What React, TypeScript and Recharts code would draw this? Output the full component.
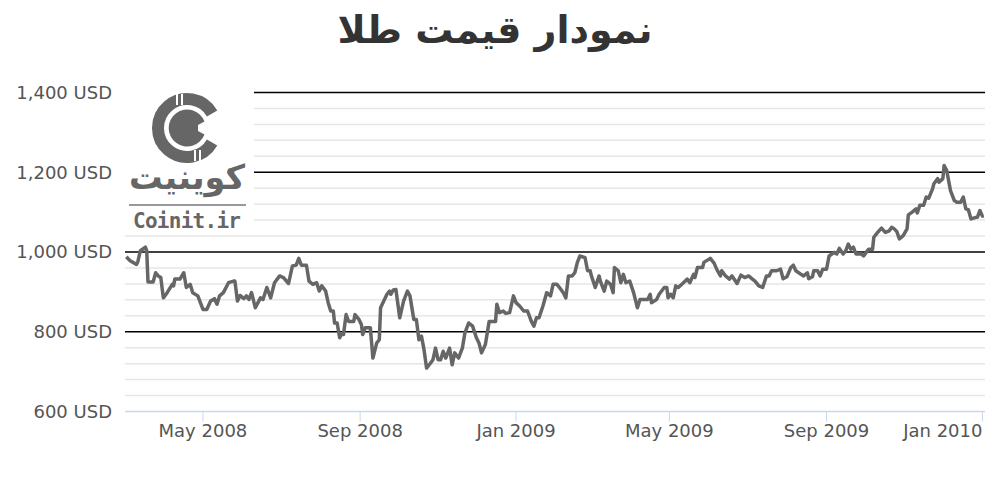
import React from "react";
import { LineChart, Line, XAxis, YAxis, CartesianGrid } from "recharts";

// قیمت روزانه طلا (دلار بر اونس)، خوانده شده از نمودار
const dates = [
  "2008-03-02", "2008-03-05", "2008-03-10", "2008-03-11", "2008-03-13", "2008-03-17", "2008-03-18", "2008-03-19",
  "2008-03-23", "2008-03-25", "2008-03-27", "2008-03-29", "2008-03-31",
  "2008-04-03", "2008-04-07", "2008-04-08", "2008-04-09", "2008-04-13", "2008-04-16", "2008-04-18", "2008-04-21",
  "2008-04-23", "2008-04-27",
  "2008-05-01", "2008-05-04", "2008-05-07", "2008-05-10", "2008-05-12", "2008-05-14", "2008-05-17", "2008-05-21",
  "2008-05-25", "2008-05-26", "2008-05-28", "2008-05-30",
  "2008-06-02", "2008-06-04", "2008-06-06", "2008-06-08", "2008-06-11", "2008-06-15", "2008-06-17", "2008-06-20",
  "2008-06-23", "2008-06-26", "2008-06-30",
  "2008-07-03", "2008-07-07", "2008-07-10", "2008-07-13", "2008-07-15", "2008-07-17", "2008-07-21", "2008-07-23",
  "2008-07-26", "2008-07-29", "2008-07-31",
  "2008-08-02", "2008-08-05", "2008-08-07", "2008-08-09", "2008-08-11", "2008-08-12", "2008-08-14", "2008-08-16",
  "2008-08-17", "2008-08-19", "2008-08-21", "2008-08-23", "2008-08-27", "2008-08-28", "2008-08-31",
  "2008-09-02", "2008-09-03", "2008-09-05", "2008-09-09", "2008-09-11", "2008-09-14", "2008-09-16", "2008-09-17",
  "2008-09-22", "2008-09-24", "2008-09-25", "2008-09-27", "2008-09-29",
  "2008-10-02", "2008-10-05", "2008-10-08", "2008-10-10", "2008-10-13", "2008-10-15", "2008-10-17", "2008-10-19",
  "2008-10-21", "2008-10-23", "2008-10-26", "2008-10-28", "2008-10-30",
  "2008-11-01", "2008-11-03", "2008-11-05", "2008-11-07", "2008-11-10", "2008-11-12", "2008-11-14", "2008-11-17",
  "2008-11-20", "2008-11-22", "2008-11-25", "2008-11-28",
  "2008-12-01", "2008-12-03", "2008-12-05", "2008-12-08", "2008-12-11", "2008-12-16", "2008-12-17", "2008-12-19",
  "2008-12-22", "2008-12-24", "2008-12-27", "2008-12-30",
  "2009-01-01", "2009-01-04", "2009-01-07", "2009-01-10", "2009-01-13", "2009-01-15", "2009-01-17", "2009-01-19",
  "2009-01-22", "2009-01-25", "2009-01-28", "2009-01-30",
  "2009-02-02", "2009-02-04", "2009-02-07", "2009-02-09", "2009-02-11", "2009-02-14", "2009-02-16", "2009-02-18",
  "2009-02-20", "2009-02-24", "2009-02-26", "2009-02-28",
  "2009-03-01", "2009-03-04", "2009-03-07", "2009-03-08", "2009-03-11", "2009-03-13", "2009-03-16", "2009-03-18",
  "2009-03-19", "2009-03-22", "2009-03-24", "2009-03-26", "2009-03-28", "2009-03-31",
  "2009-04-03", "2009-04-06", "2009-04-08", "2009-04-14", "2009-04-16", "2009-04-17", "2009-04-21", "2009-04-23",
  "2009-04-27", "2009-04-29", "2009-04-30",
  "2009-05-02", "2009-05-04", "2009-05-06", "2009-05-08", "2009-05-12", "2009-05-15", "2009-05-17", "2009-05-20",
  "2009-05-21", "2009-05-23", "2009-05-27", "2009-05-28",
  "2009-06-02", "2009-06-05", "2009-06-07", "2009-06-10", "2009-06-11", "2009-06-14", "2009-06-17", "2009-06-19",
  "2009-06-23", "2009-06-26", "2009-06-29",
  "2009-07-02", "2009-07-05", "2009-07-07", "2009-07-10", "2009-07-13", "2009-07-16", "2009-07-18", "2009-07-20",
  "2009-07-24", "2009-07-27", "2009-07-29",
  "2009-08-01", "2009-08-04", "2009-08-06", "2009-08-08", "2009-08-12", "2009-08-14", "2009-08-17", "2009-08-18",
  "2009-08-21", "2009-08-22", "2009-08-25", "2009-08-27", "2009-08-29",
  "2009-09-01", "2009-09-03", "2009-09-07", "2009-09-09", "2009-09-11", "2009-09-14", "2009-09-16", "2009-09-18",
  "2009-09-20", "2009-09-22", "2009-09-24", "2009-09-28", "2009-09-30",
  "2009-10-02", "2009-10-04", "2009-10-07", "2009-10-08", "2009-10-11", "2009-10-14", "2009-10-17", "2009-10-20",
  "2009-10-22", "2009-10-24", "2009-10-26", "2009-10-28", "2009-10-31",
  "2009-11-03", "2009-11-04", "2009-11-07", "2009-11-10", "2009-11-11", "2009-11-13", "2009-11-16", "2009-11-18",
  "2009-11-20", "2009-11-23", "2009-11-24", "2009-11-27", "2009-11-28",
  "2009-12-01", "2009-12-02", "2009-12-04", "2009-12-07", "2009-12-10", "2009-12-12", "2009-12-15", "2009-12-17",
  "2009-12-19", "2009-12-21", "2009-12-23", "2009-12-27", "2009-12-28", "2009-12-30",
  "2010-01-01", "2010-01-02",
];

const prices = [
  988, 978, 969, 975, 1003, 1012, 1003, 925,
  925, 948, 940, 936, 885,
  898, 919, 915, 932, 932, 948, 911, 919,
  898, 890,
  856, 856, 877, 883, 869, 890, 898, 923,
  927, 927, 877, 891,
  883, 890, 881, 898, 860, 885, 881, 911,
  885, 923, 940,
  936, 921, 965, 967, 984, 967, 967, 927,
  919, 923, 902,
  915, 902, 873, 852, 852, 822, 822, 785,
  793, 793, 843, 826, 826, 843, 831,
  818, 793, 810, 810, 734, 772, 780, 860,
  894, 902, 894, 905, 906,
  835, 877, 902, 890, 831, 831, 780, 789,
  755, 709, 721, 730, 759,
  730, 730, 751, 734, 759, 717, 747, 734,
  759, 797, 822, 814,
  785, 772, 747, 768, 826, 826, 869, 848,
  852, 846, 848, 890,
  873, 864, 852, 852, 826, 814, 835, 835,
  864, 898, 890, 919,
  919, 911, 898, 885, 940, 940, 948, 974,
  990, 986, 953, 953,
  940, 911, 940, 927, 902, 927, 919, 898,
  961, 953, 923, 944, 923, 927,
  898, 860, 881, 881, 894, 873, 881, 894,
  911, 911, 885,
  894, 885, 915, 911, 923, 932, 923, 944,
  936, 961, 961, 974,
  984, 972, 957, 940, 953, 940, 932, 940,
  921, 942, 936,
  940, 932, 927, 915, 911, 940, 940, 953,
  953, 957, 933,
  938, 961, 967, 953, 944, 940, 948, 933,
  938, 953, 953, 940, 957,
  957, 990, 999, 995, 1009, 995, 1003, 1020,
  1007, 1012, 995, 995, 990,
  999, 1007, 1007, 1037, 1049, 1060, 1049, 1053,
  1062, 1058, 1051, 1033, 1041,
  1058, 1093, 1100, 1108, 1098, 1117, 1117, 1138,
  1135, 1159, 1171, 1184, 1175,
  1184, 1217, 1205, 1154, 1129, 1125, 1125, 1138,
  1108, 1106, 1083, 1087, 1087, 1104,
  1090, 1091,
];

const xTickDates = ["2008-05-01", "2008-09-01", "2009-01-01", "2009-05-01", "2009-09-01", "2010-01-01"];
const xDomain = ["2008-03-01", "2010-01-03"];
const yTicks = [600, 800, 1000, 1200, 1400];
const yMajorLines = [800, 1000, 1200, 1400];
const yMinorLines = [
  640, 680, 720, 760, 840, 880, 920, 960, 1040, 1080, 1120, 1160, 1240, 1280, 1320, 1360,
];
const monthNames = ["Jan", "Feb", "Mar", "Apr", "May", "Jun", "Jul", "Aug", "Sep", "Oct", "Nov", "Dec"];

const toTime = (s: string) => {
  const [y, m, d] = s.split("-").map(Number);
  return Date.UTC(y, m - 1, d);
};

const chartData = dates.map((d, i) => ({ t: toTime(d), price: prices[i] }));

const FONT = "'DejaVu Sans', sans-serif";

const XTick = (props: any) => {
  const { x, y, payload, index, visibleTicksCount } = props;
  const dt = new Date(payload.value);
  const label = `${monthNames[dt.getUTCMonth()]} ${dt.getUTCFullYear()}`;
  const last = index === visibleTicksCount - 1;
  return (
    <text
      x={x}
      y={y}
      dy="0.71em"
      textAnchor={last ? "end" : "middle"}
      fill="#555"
      fontSize={18}
      fontFamily={FONT}
    >
      {label}
    </text>
  );
};

const Logo = () => (
  <svg
    width={1000}
    height={500}
    style={{ position: "absolute", left: 0, top: 0, pointerEvents: "none" }}
  >
    <text
      x={495}
      y={43}
      textAnchor="middle"
      direction="rtl"
      fontFamily={FONT}
      fontWeight="bold"
      fontSize={38}
      fill="#333"
    >
      نمودار قیمت طلا
    </text>
    <rect x={125} y={85} width={129} height={144} fill="#fff" />
    {/* coin ring */}
    <path
      d="M 212.1 142.5 A 29 29 0 1 1 212.1 113.5"
      fill="none"
      stroke="#666"
      strokeWidth={12}
    />
    <path
      d="M 204.5 134.5 A 18.5 18.5 0 1 1 204.5 121.5 L 198 125 L 198 131 Z"
      fill="#666"
    />
    <rect x={176} y={94} width={2} height={11} fill="#fff" />
    <rect x={181} y={94} width={2} height={11} fill="#fff" />
    <rect x={194} y={150} width={2} height={11} fill="#fff" />
    <rect x={199} y={150} width={2} height={11} fill="#fff" />
    <text
      x={187}
      y={189}
      textAnchor="middle"
      direction="rtl"
      fontFamily={FONT}
      fontWeight="bold"
      fontSize={34}
      fill="#666"
      textLength={116}
      lengthAdjust="spacingAndGlyphs"
    >
      کوینیت
    </text>
    <line x1={129} y1={205} x2={246} y2={205} stroke="#777" strokeWidth={1.5} />
    <text
      x={133}
      y={228}
      fontFamily="'DejaVu Sans Mono', monospace"
      fontWeight="bold"
      fontSize={21}
      fill="#666"
      textLength={108}
      lengthAdjust="spacing"
    >
      Coinit.ir
    </text>
  </svg>
);

export default function App() {
  return (
    <div style={{ position: "relative", width: 1000, height: 500, background: "#fff" }}>
      <style>{"body{margin:0}"}</style>
      <LineChart
        width={1000}
        height={500}
        data={chartData}
        margin={{ top: 92.5, right: 15, bottom: 58.5, left: 0 }}
      >
        <CartesianGrid
          vertical={false}
          horizontalValues={yMinorLines}
          stroke="#e6e6e6"
          strokeWidth={1.5}
        />
        <CartesianGrid
          vertical={false}
          horizontalValues={yMajorLines}
          stroke="#000"
          strokeWidth={1.5}
        />
        <XAxis
          dataKey="t"
          type="number"
          domain={xDomain.map(toTime)}
          ticks={xTickDates.map(toTime)}
          allowDataOverflow
          height={30}
          tickSize={10}
          tickMargin={3}
          stroke="#ccd6eb"
          axisLine={{ stroke: "#ccd6eb", strokeWidth: 1.5 }}
          tickLine={{ stroke: "#ccd6eb" }}
          tick={<XTick />}
          interval={0}
        />
        <YAxis
          type="number"
          domain={[600, 1400]}
          ticks={yTicks}
          width={125}
          axisLine={false}
          tickLine={false}
          tickSize={0}
          tickMargin={13}
          interval={0}
          tick={{ fill: "#555", fontSize: 18, fontFamily: FONT }}
          tickFormatter={(v: number) => `${v.toLocaleString("en-US")} USD`}
        />
        <Line
          type="linear"
          dataKey="price"
          stroke="#666"
          strokeWidth={3.5}
          dot={false}
          strokeLinejoin="round"
          isAnimationActive={false}
        />
      </LineChart>
      <Logo />
    </div>
  );
}
